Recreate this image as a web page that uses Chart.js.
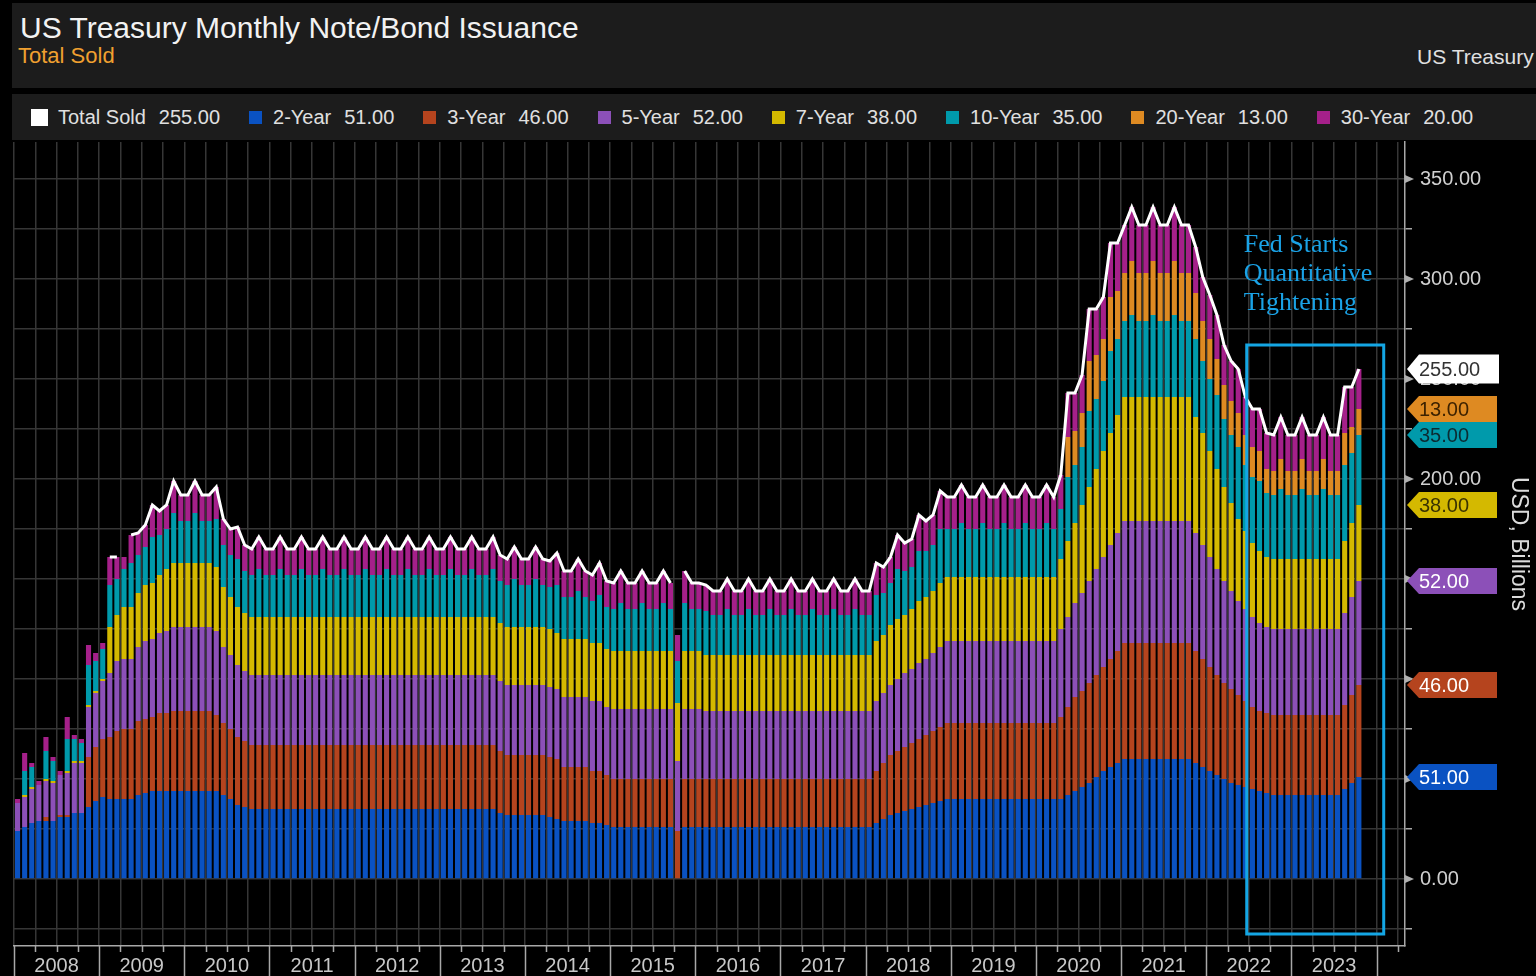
<!DOCTYPE html>
<html>
<head>
<meta charset="utf-8">
<script src="https://cdn.jsdelivr.net/npm/chart.js@4.4.1/dist/chart.umd.min.js"></script>
<style>
  html, body { margin: 0; padding: 0; background: #000; width: 1536px; height: 976px; overflow: hidden; font-family: "Liberation Sans", Arial, sans-serif; }
  .cabecalho { position: absolute; left: 12px; top: 3px; right: 0; height: 85px; background: #1c1c1c; overflow: hidden; }
  .titulo { position: absolute; left: 8px; top: 8px; color: #f2f2f2; font-size: 30px; white-space: nowrap; }
  .subtitulo { position: absolute; left: 6px; top: 40px; color: #f0a030; font-size: 22px; }
  .fonte { position: absolute; left: 1405px; top: 42px; color: #e0e0e0; font-size: 21px; white-space: nowrap; }
  .legenda { position: absolute; left: 12px; top: 94px; right: 0; height: 46px; background: #1c1c1c; display: flex; align-items: center; padding-left: 19px; }
  .item-legenda { display: flex; align-items: center; margin-right: 29px; color: #e0e0e0; font-size: 20px; white-space: nowrap; }
  .quadrado { width: 13px; height: 13px; margin-right: 11px; }
  .valor { margin-left: 13px; }
  #grafico { position: absolute; left: 0; top: 140px; }
</style>
</head>
<body>
<div class="cabecalho">
  <div class="titulo">US Treasury Monthly Note/Bond Issuance</div>
  <div class="subtitulo">Total Sold</div>
  <div class="fonte">US Treasury</div>
</div>
<div class="legenda"></div>
<canvas id="grafico" width="1536" height="836"></canvas>

<script>
// meses: jan/2008 ate abr/2024 (dados ate out/2023)
const anos = [2008, 2009, 2010, 2011, 2012, 2013, 2014, 2015, 2016, 2017, 2018, 2019, 2020, 2021, 2022, 2023, 2024];
const nomesMeses = ['Jan', 'Feb', 'Mar', 'Apr', 'May', 'Jun', 'Jul', 'Aug', 'Sep', 'Oct', 'Nov', 'Dec'];
const totalMeses = 196;

// USD bilhoes, um valor por mes
const total = [
  null, null, null, null, null, null, null, null, null, null, null, null,
  null, 161, 161, null, 172, 173, 177, 187, 184, 187, 199, 192,
  192, 199, 192, 192, 196, 180, 175, 176, 167, 165, 171, 165,
  165, 171, 165, 165, 171, 165, 165, 171, 165, 165, 171, 165,
  165, 171, 165, 165, 171, 165, 165, 171, 165, 165, 171, 165,
  165, 171, 165, 165, 171, 165, 165, 171, 162, 160, 166, 160,
  160, 166, 160, 159, 163, 154, 154, 160, 154, 152, 158, 149,
  148, 154, 148, 148, 154, 148, 148, 154, 148, null, 154, 148,
  148, 147, 144, 144, 150, 144, 144, 150, 144, 144, 150, 144,
  144, 150, 144, 144, 150, 144, 144, 150, 144, 144, 150, 144,
  144, 158, 156, 161, 172, 168, 170, 182, 179, 182, 194, 191,
  191, 197, 191, 191, 197, 191, 191, 197, 191, 191, 197, 191,
  191, 197, 191, 202, 243, 243, 252, 285, 285, 291, 318, 318,
  327, 336, 327, 327, 336, 327, 327, 336, 327, 327, 316, 301,
  292, 282, 267, 259, 255, 241, 235, 235, 223, 222, 231, 222,
  222, 231, 222, 222, 231, 222, 222, 246, 246, 255
];

const ano2 = [
  24, 26, 28, 29, 29, 29, 31, 31, 33, 33, 36, 39,
  41, 40, 40, 40, 40, 42, 43, 44, 44, 44, 44, 44,
  44, 44, 44, 44, 44, 42, 40, 37, 36, 35, 35, 35,
  35, 35, 35, 35, 35, 35, 35, 35, 35, 35, 35, 35,
  35, 35, 35, 35, 35, 35, 35, 35, 35, 35, 35, 35,
  35, 35, 35, 35, 35, 35, 35, 35, 33, 32, 32, 32,
  32, 32, 32, 31, 30, 29, 29, 29, 29, 28, 28, 27,
  26, 26, 26, 26, 26, 26, 26, 26, 26, null, 26, 26,
  26, 26, 26, 26, 26, 26, 26, 26, 26, 26, 26, 26,
  26, 26, 26, 26, 26, 26, 26, 26, 26, 26, 26, 26,
  26, 28, 30, 32, 33, 34, 35, 36, 37, 38, 39, 40,
  40, 40, 40, 40, 40, 40, 40, 40, 40, 40, 40, 40,
  40, 40, 40, 40, 42, 44, 46, 48, 51, 54, 56, 58,
  60, 60, 60, 60, 60, 60, 60, 60, 60, 60, 58, 56,
  54, 52, 50, 48, 47, 46, 45, 44, 43, 42, 42, 42,
  42, 42, 42, 42, 42, 42, 42, 45, 48, 51
];

const ano3 = [
  0, 0, 0, 0, 2, 0, 1, 1, 0, 0, 25, 27,
  29, 31, 34, 35, 35, 37, 37, 37, 39, 39, 40, 40,
  40, 40, 40, 40, 38, 36, 35, 34, 33, 32, 32, 32,
  32, 32, 32, 32, 32, 32, 32, 32, 32, 32, 32, 32,
  32, 32, 32, 32, 32, 32, 32, 32, 32, 32, 32, 32,
  32, 32, 32, 32, 32, 32, 32, 32, 31, 30, 30, 30,
  30, 30, 30, 30, 30, 27, 27, 27, 27, 26, 26, 25,
  24, 24, 24, 24, 24, 24, 24, 24, 24, 24, 24, 24,
  24, 24, 24, 24, 24, 24, 24, 24, 24, 24, 24, 24,
  24, 24, 24, 24, 24, 24, 24, 24, 24, 24, 24, 24,
  24, 26, 28, 30, 31, 32, 33, 34, 35, 36, 37, 38,
  38, 38, 38, 38, 38, 38, 38, 38, 38, 38, 38, 38,
  38, 38, 38, 41, 44, 47, 48, 50, 51, 52, 54, 56,
  58, 58, 58, 58, 58, 58, 58, 58, 58, 58, 56, 54,
  52, 50, 48, 47, 45, 43, 41, 40, 40, 40, 40, 40,
  40, 40, 40, 40, 40, 40, 40, 42, 44, 46
];

const ano5 = [
  14, 15, 17, 18, 18, 19, 20, 21, 25, 25, 25, 27,
  29, 32, 35, 35, 35, 37, 39, 39, 40, 41, 42, 42,
  42, 42, 42, 42, 42, 38, 37, 36, 35, 35, 35, 35,
  35, 35, 35, 35, 35, 35, 35, 35, 35, 35, 35, 35,
  35, 35, 35, 35, 35, 35, 35, 35, 35, 35, 35, 35,
  35, 35, 35, 35, 35, 35, 35, 35, 35, 35, 35, 35,
  35, 35, 35, 35, 35, 35, 35, 35, 35, 35, 35, 34,
  35, 35, 35, 35, 35, 35, 35, 35, 35, 35, 35, 35,
  35, 34, 34, 34, 34, 34, 34, 34, 34, 34, 34, 34,
  34, 34, 34, 34, 34, 34, 34, 34, 34, 34, 34, 34,
  34, 35, 35, 35, 36, 37, 37, 38, 38, 39, 40, 41,
  41, 41, 41, 41, 41, 41, 41, 41, 41, 41, 41, 41,
  41, 41, 41, 44, 45, 47, 49, 51, 53, 55, 57, 59,
  61, 61, 61, 61, 61, 61, 61, 61, 61, 61, 59, 57,
  55, 53, 51, 49, 47, 46, 45, 44, 43, 43, 43, 43,
  43, 43, 43, 43, 43, 43, 43, 46, 49, 52
];

const ano7 = [
  0, 1, 1, 0, 1, 1, 0, 1, 1, 1, 1, 1,
  1, 23, 23, 26, 26, 27, 28, 28, 29, 31, 32, 32,
  32, 32, 32, 32, 32, 30, 29, 29, 29, 29, 29, 29,
  29, 29, 29, 29, 29, 29, 29, 29, 29, 29, 29, 29,
  29, 29, 29, 29, 29, 29, 29, 29, 29, 29, 29, 29,
  29, 29, 29, 29, 29, 29, 29, 29, 29, 29, 29, 29,
  29, 29, 29, 29, 28, 29, 29, 29, 29, 29, 29, 29,
  29, 29, 29, 29, 29, 29, 29, 29, 29, 29, 29, 29,
  29, 28, 28, 28, 28, 28, 28, 28, 28, 28, 28, 28,
  28, 28, 28, 28, 28, 28, 28, 28, 28, 28, 28, 28,
  28, 30, 29, 30, 30, 29, 30, 31, 31, 31, 32, 32,
  32, 32, 32, 32, 32, 32, 32, 32, 32, 32, 32, 32,
  32, 32, 32, 35, 38, 40, 44, 47, 50, 53, 56, 59,
  62, 62, 62, 62, 62, 62, 62, 62, 62, 62, 58, 56,
  53, 50, 47, 44, 41, 39, 37, 36, 35, 35, 35, 35,
  35, 35, 35, 35, 35, 35, 35, 36, 37, 38
];

const ano10 = [
  0, 12, 10, 0, 14, 10, 0, 16, 11, 9, 20, 15,
  15, 21, 18, 19, 22, 19, 19, 23, 20, 20, 25, 21,
  21, 25, 21, 21, 24, 21, 21, 24, 21, 21, 24, 21,
  21, 24, 21, 21, 24, 21, 21, 24, 21, 21, 24, 21,
  21, 24, 21, 21, 24, 21, 21, 24, 21, 21, 24, 21,
  21, 24, 21, 21, 24, 21, 21, 24, 21, 21, 24, 21,
  21, 24, 21, 21, 24, 21, 21, 24, 21, 21, 24, 21,
  21, 24, 21, 21, 24, 21, 21, 24, 21, 21, 24, 21,
  21, 22, 20, 20, 23, 20, 20, 23, 20, 20, 23, 20,
  20, 23, 20, 20, 23, 20, 20, 23, 20, 20, 23, 20,
  20, 23, 21, 21, 25, 22, 21, 25, 23, 23, 27, 24,
  24, 27, 24, 24, 27, 24, 24, 27, 24, 24, 27, 24,
  24, 27, 24, 25, 32, 29, 29, 38, 35, 35, 41, 38,
  38, 41, 38, 38, 41, 38, 38, 41, 38, 38, 39, 36,
  36, 37, 34, 34, 36, 33, 33, 35, 32, 32, 35, 32,
  32, 35, 32, 32, 35, 32, 32, 38, 35, 35
];

const ano20 = [
  0, 0, 0, 0, 0, 0, 0, 0, 0, 0, 0, 0,
  0, 0, 0, 0, 0, 0, 0, 0, 0, 0, 0, 0,
  0, 0, 0, 0, 0, 0, 0, 0, 0, 0, 0, 0,
  0, 0, 0, 0, 0, 0, 0, 0, 0, 0, 0, 0,
  0, 0, 0, 0, 0, 0, 0, 0, 0, 0, 0, 0,
  0, 0, 0, 0, 0, 0, 0, 0, 0, 0, 0, 0,
  0, 0, 0, 0, 0, 0, 0, 0, 0, 0, 0, 0,
  0, 0, 0, 0, 0, 0, 0, 0, 0, 0, 0, 0,
  0, 0, 0, 0, 0, 0, 0, 0, 0, 0, 0, 0,
  0, 0, 0, 0, 0, 0, 0, 0, 0, 0, 0, 0,
  0, 0, 0, 0, 0, 0, 0, 0, 0, 0, 0, 0,
  0, 0, 0, 0, 0, 0, 0, 0, 0, 0, 0, 0,
  0, 0, 0, 0, 20, 17, 17, 25, 22, 21, 27, 24,
  24, 27, 24, 24, 27, 24, 24, 27, 24, 24, 23, 20,
  20, 18, 17, 17, 17, 15, 15, 15, 12, 12, 15, 12,
  12, 15, 12, 12, 15, 12, 12, 16, 13, 13
];

const ano30 = [
  2, 9, 2, 2, 7, 2, 2, 11, 2, 2, 10, 4,
  3, 14, 11, 6, 14, 11, 11, 16, 12, 12, 16, 13,
  13, 16, 13, 13, 16, 13, 13, 16, 13, 13, 16, 13,
  13, 16, 13, 13, 16, 13, 13, 16, 13, 13, 16, 13,
  13, 16, 13, 13, 16, 13, 13, 16, 13, 13, 16, 13,
  13, 16, 13, 13, 16, 13, 13, 16, 13, 13, 16, 13,
  13, 16, 13, 13, 16, 13, 13, 16, 13, 13, 16, 13,
  13, 16, 13, 13, 16, 13, 13, 16, 13, 13, 16, 13,
  13, 13, 12, 12, 15, 12, 12, 15, 12, 12, 15, 12,
  12, 15, 12, 12, 15, 12, 12, 15, 12, 12, 15, 12,
  12, 16, 13, 13, 17, 14, 14, 18, 15, 15, 19, 16,
  16, 19, 16, 16, 19, 16, 16, 19, 16, 16, 19, 16,
  16, 19, 16, 17, 22, 19, 19, 26, 23, 21, 27, 24,
  24, 27, 24, 24, 27, 24, 24, 27, 24, 24, 23, 22,
  22, 22, 20, 20, 22, 19, 19, 21, 18, 18, 21, 18,
  18, 21, 18, 18, 21, 18, 18, 23, 20, 20
];

const series = [
  { nome: '2-Year', dados: ano2, cor: '#0a52c2', corTexto: '#ffffff' },
  { nome: '3-Year', dados: ano3, cor: '#b5441e', corTexto: '#ffffff' },
  { nome: '5-Year', dados: ano5, cor: '#8c50b8', corTexto: '#ffffff' },
  { nome: '7-Year', dados: ano7, cor: '#d4b900', corTexto: '#3a3300' },
  { nome: '10-Year', dados: ano10, cor: '#009aab', corTexto: '#0b2c33' },
  { nome: '20-Year', dados: ano20, cor: '#de8a22', corTexto: '#3d2200' },
  { nome: '30-Year', dados: ano30, cor: '#a5208a', corTexto: '#ffffff' }
];

// caixa "Fed Starts Quantitative Tightening"
const textoQT = ['Fed Starts', 'Quantitative', 'Tightening'];
const qtInicio = 173.2, qtFim = 192.5, qtTopo = 267, qtBase = -27.5;

const fonte = '"Liberation Sans", Arial, sans-serif';
Chart.defaults.font.family = fonte;

const meses = [];
anos.forEach(ano => nomesMeses.forEach(m => meses.push(m + ' ' + ano)));
meses.length = totalMeses;

// posicao das etiquetas: topo acumulado do ultimo mes de cada serie
const totalFinal = total[total.length - 1];
const etiquetas = [];
let acumulado = 0;
series.forEach(s => {
  const ultimo = s.dados[s.dados.length - 1];
  acumulado += ultimo;
  if (Math.abs(acumulado - totalFinal) >= 10) {
    etiquetas.push({ valor: acumulado, texto: ultimo.toFixed(2), fundo: s.cor, corTexto: s.corTexto });
  }
});

// legenda no topo
const legenda = document.querySelector('.legenda');
function adicionarItemLegenda(nome, valor, cor, tamanho) {
  const item = document.createElement('div');
  item.className = 'item-legenda';
  const q = document.createElement('span');
  q.className = 'quadrado';
  q.style.background = cor;
  if (tamanho) { q.style.width = tamanho + 'px'; q.style.height = tamanho + 'px'; q.style.marginRight = '10px'; }
  const n = document.createElement('span');
  n.textContent = nome;
  const v = document.createElement('span');
  v.className = 'valor';
  v.textContent = valor.toFixed(2);
  item.append(q, n, v);
  legenda.appendChild(item);
}
adicionarItemLegenda('Total Sold', totalFinal, '#ffffff', 17);
series.forEach(s => adicionarItemLegenda(s.nome, s.dados[s.dados.length - 1], s.cor));

function desenharEtiqueta(ctx, x, y, texto, fundo, corTexto, direita, altura) {
  ctx.beginPath();
  ctx.moveTo(x, y);
  ctx.lineTo(x + 12, y - altura / 2);
  ctx.lineTo(direita, y - altura / 2);
  ctx.lineTo(direita, y + altura / 2);
  ctx.lineTo(x + 12, y + altura / 2);
  ctx.closePath();
  ctx.fillStyle = fundo;
  ctx.fill();
  ctx.fillStyle = corTexto;
  ctx.font = '20px ' + fonte;
  ctx.textAlign = 'left';
  ctx.textBaseline = 'middle';
  ctx.fillText(texto, x + 12, y + 1);
}

// rotulo do eixo escondido quando uma etiqueta fica em cima dele
function rotuloY(v) {
  if (v % 50 !== 0 || v < 0) return '';
  if (etiquetas.some(e => Math.abs(e.valor - v) < 4)) return '';
  return v.toFixed(2);
}

const marcadores = {
  id: 'marcadores',
  afterDatasetsDraw(chart) {
    const { ctx, scales: { x, y } } = chart;
    const x0 = x.getPixelForValue(qtInicio), x1 = x.getPixelForValue(qtFim);
    const y0 = y.getPixelForValue(qtTopo), y1 = y.getPixelForValue(qtBase);
    ctx.save();
    ctx.strokeStyle = '#14a6e4';
    ctx.lineWidth = 3;
    ctx.strokeRect(x0, y0, x1 - x0, y1 - y0);
    ctx.font = '26px "Liberation Serif", "Times New Roman", serif';
    ctx.fillStyle = '#1aa2e6';
    ctx.textAlign = 'left';
    ctx.textBaseline = 'alphabetic';
    textoQT.forEach((linha, i) => {
      ctx.fillText(linha, x0 - 3, y0 - 35 - (textoQT.length - 1 - i) * 29);
    });
    ctx.restore();
  },
  afterDraw(chart) {
    const { ctx, scales: { x, y } } = chart;
    ctx.save();
    // marcas do eixo x: trimestres curtos, anos longos
    ctx.strokeStyle = '#a8a8a8';
    ctx.lineWidth = 1.5;
    ctx.beginPath();
    for (let i = 0; i <= totalMeses; i += 3) {
      const px = Math.round(x.getPixelForValue(i - 0.5)) + 0.5;
      ctx.moveTo(px, x.top);
      ctx.lineTo(px, i % 12 === 0 ? chart.height : x.top + 6);
    }
    ctx.stroke();

    // triangulos nos valores com rotulo
    ctx.fillStyle = '#b0b0b0';
    for (let v = 0; v <= 350; v += 50) {
      const py = y.getPixelForValue(v);
      ctx.beginPath();
      ctx.moveTo(y.left, py - 4);
      ctx.lineTo(y.left + 9, py);
      ctx.lineTo(y.left, py + 4);
      ctx.closePath();
      ctx.fill();
    }

    // etiquetas com o ultimo valor de cada serie
    etiquetas.forEach(e => {
      desenharEtiqueta(ctx, y.left + 2, y.getPixelForValue(e.valor), e.texto, e.fundo, e.corTexto, y.left + 92, 26);
    });
    desenharEtiqueta(ctx, y.left + 2, y.getPixelForValue(totalFinal), totalFinal.toFixed(2), '#ffffff', '#333333', y.left + 94, 29);
    ctx.restore();
  }
};

const conjuntos = [{
  type: 'line',
  label: 'Total Sold',
  data: total,
  borderColor: '#ffffff',
  borderWidth: 3,
  pointRadius: 0,
  tension: 0,
  spanGaps: false,
  stack: 'total',
  order: 0
}];
series.forEach(s => {
  conjuntos.push({
    label: s.nome,
    data: s.dados,
    backgroundColor: s.cor,
    borderWidth: 0,
    barPercentage: 0.72,
    categoryPercentage: 1,
    stack: 'emissoes',
    order: 1
  });
});

const ctx = document.getElementById('grafico').getContext('2d');
const grafico = new Chart(ctx, {
  type: 'bar',
  data: { labels: meses, datasets: conjuntos },
  options: {
    responsive: false,
    animation: false,
    devicePixelRatio: 1,
    layout: { padding: { left: 14, top: 2, right: 0, bottom: 0 } },
    plugins: { legend: { display: false }, tooltip: { enabled: false } },
    scales: {
      x: {
        stacked: true,
        grid: {
          color: c => (c.index % 3 === 0 ? '#363636' : 'rgba(0,0,0,0)'),
          lineWidth: 1.5,
          drawTicks: false
        },
        border: { color: '#a8a8a8', width: 1.5 },
        ticks: {
          autoSkip: false,
          maxRotation: 0,
          minRotation: 0,
          padding: 8,
          labelOffset: -3.55,
          color: '#c8c8c8',
          font: { size: 20 },
          callback: (valor, indice) => (indice % 12 === 6 ? String(anos[Math.floor(indice / 12)]) : '')
        },
        afterFit: escala => { escala.height = 30; escala.paddingLeft = 0; escala.paddingRight = 0; }
      },
      y: {
        position: 'right',
        stacked: true,
        min: -33.5,
        max: 368.5,
        grid: {
          color: '#363636',
          lineWidth: 1.5,
          tickLength: 7,
          tickColor: '#a8a8a8'
        },
        border: { color: '#a8a8a8', width: 1.5 },
        ticks: {
          stepSize: 25,
          includeBounds: false,
          padding: 8,
          color: '#d0d0d0',
          font: { size: 20 },
          callback: rotuloY
        },
        title: { display: true, text: 'USD, Billions', color: '#dcdcdc', font: { size: 23 }, padding: { top: 4, bottom: 0 } },
        afterFit: escala => { escala.width = 131; escala.paddingTop = 0; escala.paddingBottom = 0; }
      }
    }
  },
  plugins: [marcadores]
});
</script>
</body>
</html>
